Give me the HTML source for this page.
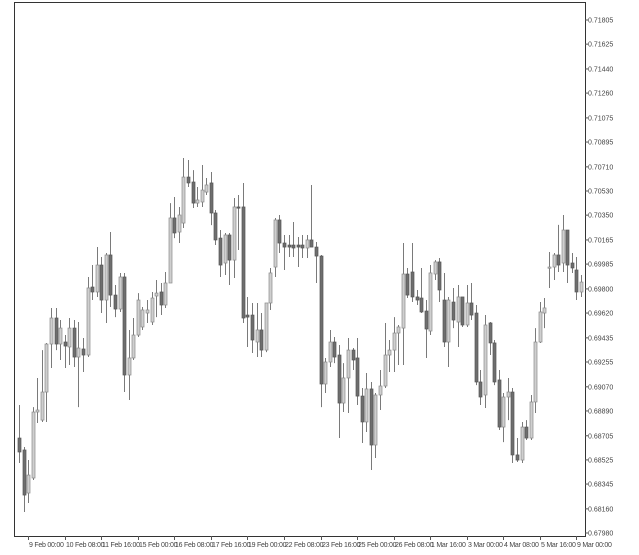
<!DOCTYPE html>
<html><head><meta charset="utf-8"><style>
html,body{margin:0;padding:0;background:#fff;width:639px;height:555px;overflow:hidden}
svg{display:block}
text{font-family:"Liberation Sans",sans-serif;fill:#444}
</style></head><body>
<svg id="chart" width="639" height="555">
<rect x="14.5" y="2.5" width="571" height="534" fill="none" stroke="#333"/>
<g id="candles"></g>
<g id="yaxis"></g>
<g id="xaxis"></g>
</svg>
<script>
const openP=[68688,68599,68278,68390,68882,68822,69031,69389,69583,69389,69404,69367,69508,69292,69352,69307,69814,69777,69978,69717,70053,69754,69650,69889,69158,69285,69456,69516,69620,69553,69747,69777,69680,69844,70329,70224,70291,70634,70597,70440,70448,70522,70590,70366,70179,69993,70202,70015,70411,70411,69605,69605,69404,69494,69344,69695,69963,70314,70142,70127,70127,70127,70127,70105,70165,70112,70045,69091,69255,69404,69307,68949,69136,69344,69285,69001,68808,69054,68636,69009,69076,69307,69344,69471,69508,69911,69926,69740,69732,69635,69486,69911,70001,69717,69404,69702,69553,69740,69531,69695,69620,69106,69009,69546,69397,69121,68770,68994,69031,68562,68524,68770,68688,68957,69404,69620,69956,69963,70053,69993,70239,69993,69941,69777];
const highP=[68934,68621,68524,68919,69136,69344,69397,69658,69658,69568,69456,69583,69568,69553,69434,69889,69978,70112,70038,70068,70224,69829,69919,69919,69494,69583,69769,69665,69717,69777,69866,69844,69926,70440,70485,70411,70776,70761,70686,70560,70724,70627,70672,70388,70239,70217,70217,70478,70500,70590,69740,69695,69695,69620,69695,69956,70329,70351,70202,70202,70299,70187,70202,70202,70575,70150,70053,69285,69494,69441,69382,69247,69434,69359,69434,69061,69173,69106,69024,69195,69546,69419,69590,69531,70142,69956,70142,69792,69956,69717,69978,70015,70030,69919,69740,69807,69829,69740,69829,69844,69680,69195,69605,69553,69419,69195,69024,69136,69061,68688,68808,68822,69009,69508,69702,69732,70075,70068,70277,70351,70239,70068,70038,69904];
const lowP=[68502,68137,68204,68375,68800,68808,68808,69210,69344,69270,69210,69233,69218,68919,69180,69292,69717,69740,69620,69546,69665,69590,69628,69031,68972,69270,69441,69494,69546,69531,69590,69605,69658,69844,70179,70142,70254,70560,70403,70411,70411,70500,70276,70127,69889,69904,69829,69881,70090,69546,69367,69322,69292,69292,69329,69643,69889,70068,69941,70038,70038,69963,70030,70030,70112,69844,68919,69024,69218,69247,68688,68882,68875,69195,68934,68651,68733,68450,68539,68897,69061,69180,69180,69233,69233,69732,69702,69680,69620,69285,69456,69866,69702,69367,69218,69508,69367,69516,69516,69568,69083,68934,68912,69307,69083,68748,68658,68822,68502,68509,68502,68673,68673,68875,69397,69508,69807,69866,69926,69926,69844,69919,69717,69740];
const closeP=[68584,68263,68412,68882,68897,69031,69389,69583,69389,69508,69374,69508,69292,69359,69307,69807,69777,69978,69717,70053,69754,69650,69889,69158,69285,69456,69717,69643,69643,69732,69769,69680,69844,70329,70217,70351,70634,70590,70440,70463,70537,70575,70366,70165,69978,70202,70015,70411,70403,69583,69590,69419,69494,69344,69695,69919,70314,70142,70112,70112,70105,70112,70105,70165,70112,70045,69091,69255,69404,69292,68949,69136,69344,69270,69001,68808,69054,68636,69009,69076,69307,69344,69471,69516,69911,69754,69740,69717,69628,69501,69919,70001,69792,69404,69717,69568,69740,69531,69695,69605,69106,68994,69531,69397,69106,68770,68994,69031,68562,68524,68770,68688,68957,69404,69628,69658,69963,70053,69978,70239,69978,69956,69777,69851];
const yTicks=[0.71805,0.71625,0.71440,0.71260,0.71075,0.70895,0.70710,0.70530,0.70350,0.70165,0.69985,0.69800,0.69620,0.69435,0.69255,0.69070,0.68890,0.68705,0.68525,0.68345,0.68160,0.67980];
const yTickLabels=["0.71805","0.71625","0.71440","0.71260","0.71075","0.70895","0.70710","0.70530","0.70350","0.70165","0.69985","0.69800","0.69620","0.69435","0.69255","0.69070","0.68890","0.68705","0.68525","0.68345","0.68160","0.67980"];
const xTickIndex=[2,10,18,26,34,42,50,58,66,74,82,90,98,106,114,122];
const xTickLabels=["9 Feb 00:00","10 Feb 08:00","11 Feb 16:00","15 Feb 00:00","16 Feb 08:00","17 Feb 16:00","19 Feb 00:00","22 Feb 08:00","23 Feb 16:00","25 Feb 00:00","26 Feb 08:00","1 Mar 16:00","3 Mar 00:00","4 Mar 08:00","5 Mar 16:00","9 Mar 00:00"];

const NS="http://www.w3.org/2000/svg";
const yMin=0.67980,yMax=0.71805;
function yScale(p){return 533-(p-yMin)/(yMax-yMin)*513;}
function xScale(i){return 19+i*(562/(openP.length-1));}
function mk(t,a){const e=document.createElementNS(NS,t);for(const k in a)e.setAttribute(k,a[k]);return e;}
const cg=document.getElementById('candles');
for(let i=0;i<openP.length;i++){
  const o=openP[i]/1e5,h=highP[i]/1e5,l=lowP[i]/1e5,c=closeP[i]/1e5;
  const x=Math.round(xScale(i))+0.5;
  const up=c>=o;
  const g=mk('g',{});
  
  
  const w=mk('line',{x1:x,x2:x,y1:yScale(h),y2:yScale(l),stroke:'#7a7a7a','stroke-width':1});
  
  
  g.appendChild(w);
  const top=yScale(Math.max(o,c)),bot=yScale(Math.min(o,c));
  const b=mk('rect',{x:x-1.5,y:top,width:3,height:Math.max(1.2,bot-top),fill:up?'#cfcfcf':'#6e6e6e',stroke:up?'#8a8a8a':'#555','stroke-width':0.7});
  
  
  g.appendChild(b);
  cg.appendChild(g);
}
const yg=document.getElementById('yaxis');
yTicks.forEach((v,i)=>{
  const y=yScale(v);
  const tk=mk('line',{x1:585,x2:588,y1:y,y2:y,stroke:'#555'});
  
  
  yg.appendChild(tk);
  const t=mk('text',{x:588,y:y+2.5,'font-size':7});
  
  
  t.textContent=yTickLabels[i];
  yg.appendChild(t);
});
const xg=document.getElementById('xaxis');
xTickIndex.forEach((idx,i)=>{
  const x=Math.round(xScale(idx))+0.5;
  const tk=mk('line',{x1:x,x2:x,y1:536,y2:540,stroke:'#555'});
  
  
  xg.appendChild(tk);
  const t=mk('text',{x:x+0.5,y:547,'font-size':7,'letter-spacing':'-0.25'});
  
  
  t.textContent=xTickLabels[i];
  xg.appendChild(t);
});
</script>
</body></html>
